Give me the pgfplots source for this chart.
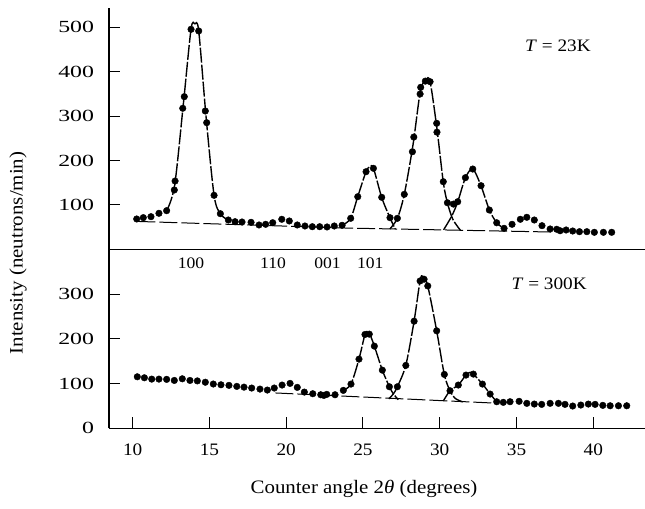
\documentclass[border=0pt]{standalone}
\usepackage{fontspec}
\setmainfont{Liberation Serif}[FakeStretch=1.1]
\newfontfamily\widefont{Liberation Serif}[FakeStretch=1.4]
\usepackage{pgfplots}
\pgfplotsset{compat=1.18}
\pgfplotsset{
  panel/.style={
    scale only axis, width=536bp,
    xmin=8.456, xmax=43.37,
    axis x line=bottom, axis y line=left,
    axis line style={line width=1.4bp,-},
    every tick/.style={line width=1bp,black},
    major tick length=11bp, tick align=inside,
    /pgf/number format/assume math mode=true,
    xticklabel style={font=\fontsize{17.5bp}{20bp}\selectfont, yshift=-12bp},
    yticklabel style={font=\widefont\fontsize{17bp}{20bp}\selectfont, xshift=-11.5bp},
    anchor=south west, clip=false,
  },
  dots/.style={only marks, mark=*, mark size=3.3bp, black},
  fit/.style={smooth, black, line width=1.4bp, dash pattern=on 15bp off 2bp},
  bg/.style={black, line width=1bp, dash pattern=on 18bp off 4bp},
}
\begin{document}
\begin{tikzpicture}
\path[use as bounding box] (0,0) rectangle (645bp,509bp);
% bottom panel, T = 300K
\begin{axis}[panel, at={(109bp,80.7bp)}, height=178.9bp, ymin=0, ymax=400,
  xtick={10,15,20,25,30,35,40}, ytick={0,100,200,300}]
\addplot[dots] coordinates {(10.30,115.2)(10.76,113)(11.24,110)(11.71,110)(12.21,109.4)(12.71,107)(13.23,110.7)(13.73,107)(14.21,106)(14.73,103)(15.25,99)(15.75,97.3)(16.27,96)(16.78,93.7)(17.25,92)(17.75,90)(18.29,87.7)(18.77,85.5)(19.22,90)(19.73,96.7)(20.25,100.4)(20.72,91.5)(21.18,81)(21.73,77.3)(22.25,75)(22.45,73.5)(22.64,75.9)(23.18,75)(23.72,84.8)(24.22,98.9)(24.74,154.7)(25.13,209.8)(25.41,210.5)(25.74,183.7)(26.26,130)(26.72,92.9)(27.24,92.9)(27.79,140.6)(28.33,239.5)(28.72,329.5)(28.98,333.3)(29.22,318.3)(29.80,218)(30.30,120.5)(30.67,84)(31.21,96.7)(31.71,119)(32.19,121.2)(32.78,98.9)(33.28,76.6)(33.71,59.4)(34.14,58)(34.58,59.4)(35.17,60.3)(35.67,55.8)(36.16,54.2)(36.64,53.5)(37.19,55.8)(37.73,55.8)(38.16,53.5)(38.66,49.8)(39.19,52)(39.68,54.2)(40.12,53.5)(40.62,51.3)(41.10,50.4)(41.64,50.4)(42.18,50.4)};
\addplot[fit] coordinates {(23.72,85)(24.22,99)(24.74,155)(25.13,210)(25.3,216)(25.45,210)(25.74,184)(26.26,130)(26.72,93)(26.98,77)(27.3,64)};
\addplot[fit] coordinates {(26.68,66)(26.98,77)(27.24,93)(27.79,141)(28.33,240)(28.72,330)(28.9,340)(29.22,318)(29.80,218)(30.30,120)(30.67,84)(31.0,67)(31.5,59)};
\addplot[fit] coordinates {(30.23,61)(30.67,84)(31.21,97)(31.71,119)(31.98,125)(32.19,121)(32.78,99)(33.28,77)(33.71,59)};
\addplot[bg] coordinates {(19.3,79)(33.8,56)};
\node[font=\fontsize{17.5bp}{20bp}\selectfont] at (axis cs:37.13,324) {\textit{T} = 300K};
\node[font=\fontsize{16bp}{19bp}\selectfont] at (axis cs:13.8,369) {100};
\node[font=\fontsize{16bp}{19bp}\selectfont] at (axis cs:19.14,369) {110};
\node[font=\fontsize{16bp}{19bp}\selectfont] at (axis cs:22.69,369) {001};
\node[font=\fontsize{16bp}{19bp}\selectfont] at (axis cs:25.47,369) {101};
\end{axis}
% top panel, T = 23K
\begin{axis}[panel, at={(109bp,259.6bp)}, height=241.4bp, ymin=0, ymax=543.7,
  xtick=\empty, ytick={100,200,300,400,500}]
\addplot[dots] coordinates {(10.26,68.5)(10.69,71.5)(11.19,73.7)(11.71,81.3)(12.21,87.2)(12.71,133.8)(12.76,154)(13.26,317.8)(13.36,344)(13.80,495.7)(14.30,492)(14.73,311.7)(14.82,285.4)(15.30,121.8)(15.71,80.4)(16.23,66.2)(16.67,62.4)(17.12,61.7)(17.71,61)(18.23,55)(18.66,56.5)(19.12,60.1)(19.71,67.8)(20.20,64)(20.72,55)(21.22,52.7)(21.70,51.1)(22.18,51.1)(22.66,50.5)(23.13,52.7)(23.64,54.3)(24.20,70)(24.66,118.7)(25.20,175)(25.68,182.6)(26.22,117.3)(26.76,71.4)(27.24,70)(27.69,124)(28.22,220)(28.31,253)(28.72,350)(28.76,365)(29.06,379)(29.37,377.7)(29.80,284)(29.82,264)(30.23,152.5)(30.50,105)(30.89,102)(31.17,107.4)(31.67,161.5)(32.15,181)(32.69,143.5)(33.23,88.7)(33.71,60)(34.19,47.5)(34.71,56.5)(35.25,67.8)(35.67,72.3)(36.16,66.2)(36.66,53.4)(37.19,46)(37.62,45.3)(37.84,42)(38.23,43.7)(38.66,41.4)(39.10,39.9)(39.58,39.9)(40.07,38.5)(40.66,38.5)(41.20,38.5)};
\addplot[fit] coordinates {(12.21,87)(12.73,144)(13.31,331)(13.8,496)(14.05,508)(14.3,492)(14.78,298)(15.30,122)(15.71,80)(16.23,66)};
\addplot[fit] coordinates {(23.64,54)(24.20,70)(24.66,119)(25.20,175)(25.45,186)(25.68,183)(26.22,117)(26.76,71)(27.1,46)};
\addplot[fit] coordinates {(26.75,46)(27.24,70)(27.69,124)(28.26,236)(28.74,357)(29.1,382)(29.37,378)(29.81,274)(30.23,152)(30.5,105)(30.85,68)(31.35,43)};
\addplot[fit] coordinates {(30.25,44)(30.78,75)(31.17,107)(31.67,161)(32.15,181)(32.69,143)(33.23,89)(33.71,60)(34.19,47)};
\addplot[bg] coordinates {(10.3,63)(24,48)(37.5,39)};
\node[font=\fontsize{17.5bp}{20bp}\selectfont] at (axis cs:37.7,458) {\textit{T} = 23K};
\end{axis}
\node[rotate=90, font=\fontsize{19bp}{22bp}\selectfont] at (18bp,256bp) {Intensity (neutrons/min)};
\node[font=\fontsize{19bp}{22bp}\selectfont] at (364bp,20bp) {Counter angle 2\textit{θ} (degrees)};
\end{tikzpicture}
\end{document}
